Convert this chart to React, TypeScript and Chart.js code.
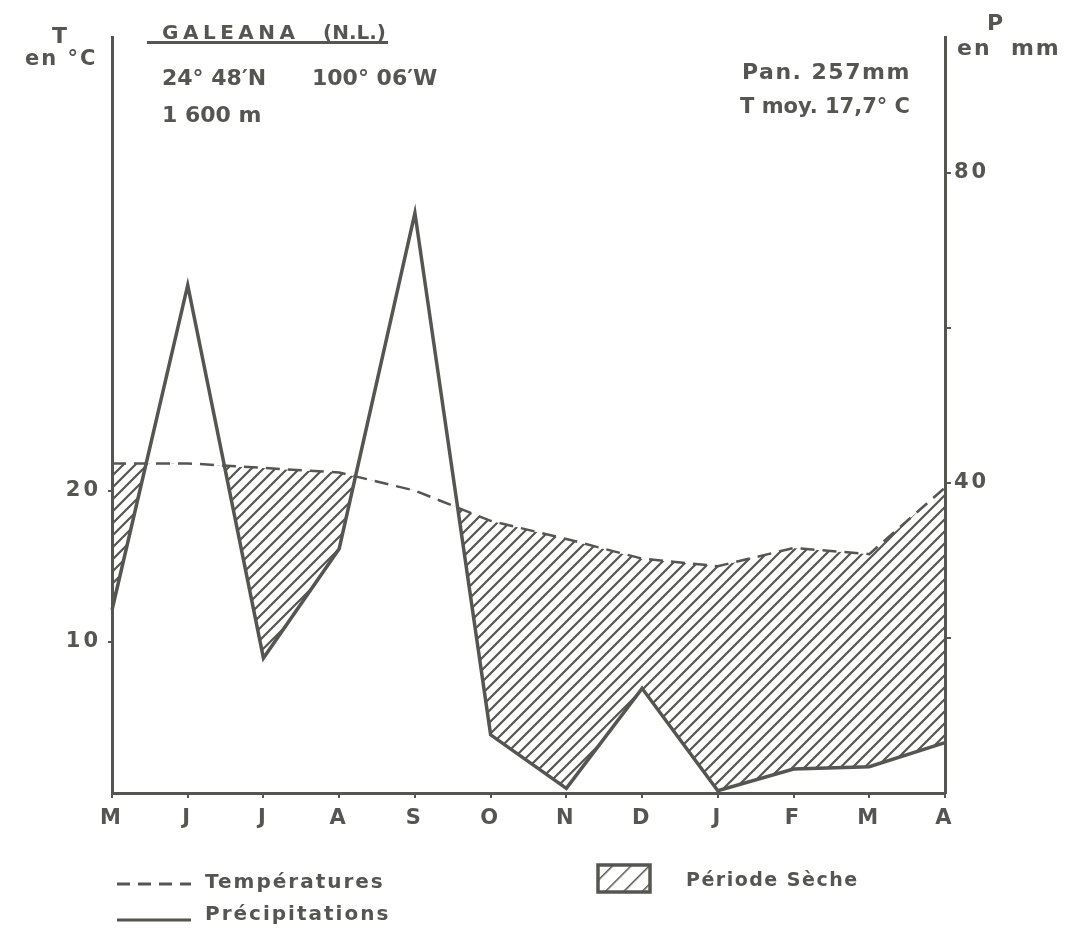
import React, { useEffect, useRef } from 'react';
import { Chart, registerables } from 'chart.js';

Chart.register(...registerables);

// ---- data ----
const months = ['M', 'J', 'J', 'A', 'S', 'O', 'N', 'D', 'J', 'F', 'M', 'A'];
const temperatures = [21.8, 21.8, 21.5, 21.2, 20.0, 18.0, 16.8, 15.5, 15.0, 16.2, 15.8, 20.2];
const precipitations = [23.6, 65.5, 17.4, 31.5, 74.8, 7.5, 0.6, 13.5, 0.3, 3.1, 3.4, 6.5];
const tempLabelledTicks = [10, 20];
const precipTickMarks = [20, 40, 60, 80];
const precipLabelledTicks = [40, 80];

const INK = '#555551';
const FONT = '"DejaVu Sans", "Noto Sans", sans-serif';

function makeHatch(ctx: CanvasRenderingContext2D) {
  const s = 12;
  const c = document.createElement('canvas');
  c.width = s;
  c.height = s;
  const g = c.getContext('2d')!;
  g.strokeStyle = INK;
  g.lineWidth = 2.2;
  g.beginPath();
  g.moveTo(-2, s + 2);
  g.lineTo(s + 2, -2);
  g.moveTo(-2, 2);
  g.lineTo(2, -2);
  g.moveTo(s - 2, s + 2);
  g.lineTo(s + 2, s - 2);
  g.stroke();
  return ctx.createPattern(c, 'repeat')!;
}

const spacingPlugin = {
  id: 'letterSpacing',
  beforeDraw(chart: any) {
    chart.ctx.letterSpacing = '3px';
  },
  afterDraw(chart: any) {
    chart.ctx.letterSpacing = '0px';
  },
};

const txt = (extra: React.CSSProperties): React.CSSProperties => ({
  position: 'absolute',
  fontFamily: FONT,
  fontWeight: 'bold',
  color: INK,
  lineHeight: 1,
  whiteSpace: 'pre',
  margin: 0,
  ...extra,
});

export default function App() {
  const ref = useRef<HTMLCanvasElement>(null);

  useEffect(() => {
    const canvas = ref.current!;
    const ctx = canvas.getContext('2d')!;
    const hatch = makeHatch(ctx);
    const tickFont = { family: FONT, size: 21, weight: 'bold' as const };

    const chart = new Chart(ctx, {
      type: 'line',
      data: {
        labels: months,
        datasets: [
          {
            label: 'Températures',
            data: temperatures,
            yAxisID: 'y',
            borderColor: INK,
            borderWidth: 2.5,
            borderDash: [14, 8],
            pointRadius: 0,
            tension: 0,
            fill: false,
          },
          {
            label: 'Précipitations',
            data: precipitations,
            yAxisID: 'y2',
            borderColor: INK,
            borderWidth: 3.5,
            pointRadius: 0,
            tension: 0,
            fill: { target: 0, above: 'rgba(0,0,0,0)', below: hatch as any },
          },
        ],
      },
      options: {
        responsive: false,
        animation: false,
        layout: { padding: { top: 37, left: 0, right: 0, bottom: 0 } },
        plugins: {
          legend: { display: false },
          tooltip: { enabled: false },
          title: { display: false },
        },
        scales: {
          x: {
            type: 'category',
            offset: false,
            grid: { drawOnChartArea: false, drawTicks: true, tickLength: 5, color: INK, lineWidth: 2 },
            border: { display: true, color: INK, width: 3 },
            ticks: { color: INK, font: tickFont, padding: 8, autoSkip: false, maxRotation: 0 },
            afterFit: (s: any) => {
              s.height = 138;
            },
          },
          y: {
            type: 'linear',
            position: 'left',
            min: 0,
            max: 50,
            grid: {
              drawOnChartArea: false,
              tickLength: 4,
              lineWidth: 2,
              color: (c: any) => (tempLabelledTicks.includes(c.tick?.value) ? INK : 'rgba(0,0,0,0)'),
            },
            border: { display: true, color: INK, width: 3 },
            ticks: {
              stepSize: 10,
              color: INK,
              font: tickFont,
              padding: 7,
              callback: (v: any) => (tempLabelledTicks.includes(Number(v)) ? String(v) : ''),
            },
            afterFit: (s: any) => {
              s.width = 112;
            },
          },
          y2: {
            type: 'linear',
            position: 'right',
            min: 0,
            max: 97.5,
            grid: {
              drawOnChartArea: false,
              tickLength: 6,
              lineWidth: 2,
              color: (c: any) => (precipTickMarks.includes(c.tick?.value) ? INK : 'rgba(0,0,0,0)'),
            },
            border: { display: true, color: INK, width: 3 },
            ticks: {
              stepSize: 20,
              color: INK,
              font: tickFont,
              padding: 3,
              callback: (v: any) => (precipLabelledTicks.includes(Number(v)) ? String(v) : ''),
            },
            afterFit: (s: any) => {
              s.width = 121;
            },
          },
        },
      },
      plugins: [spacingPlugin],
    } as any);

    return () => chart.destroy();
  }, []);

  return (
    <div
      style={{
        position: 'absolute',
        left: 0,
        top: 0,
        width: 1066,
        height: 931,
        background: '#ffffff',
        overflow: 'hidden',
      }}
    >
      <canvas
        ref={ref}
        width={1066}
        height={931}
        style={{ position: 'absolute', left: 0, top: 0, width: 1066, height: 931 }}
      />

      {/* left axis title */}
      <div style={txt({ left: 52, top: 25, fontSize: 22 })}>T</div>
      <div style={txt({ left: 25, top: 48, fontSize: 21, letterSpacing: 2 })}>en °C</div>

      {/* right axis title */}
      <div style={txt({ left: 987, top: 12, fontSize: 22 })}>P</div>
      <div style={txt({ left: 957, top: 37, fontSize: 22, letterSpacing: 2 })}>en  mm</div>

      {/* station block */}
      <div style={txt({ left: 162, top: 22, fontSize: 20, letterSpacing: 4.5 })}>GALEANA</div>
      <div style={txt({ left: 323, top: 22, fontSize: 20 })}>(N.L.)</div>
      <div style={{ position: 'absolute', left: 147, top: 41, width: 241, height: 0, borderTop: `3px solid ${INK}` }} />
      <div style={txt({ left: 162, top: 67, fontSize: 22 })}>24° 48′N</div>
      <div style={txt({ left: 312, top: 67, fontSize: 22 })}>100° 06′W</div>
      <div style={txt({ left: 162, top: 104, fontSize: 22 })}>1 600 m</div>

      {/* totals */}
      <div style={txt({ left: 742, top: 61, fontSize: 22, letterSpacing: 1.5 })}>Pan. 257mm</div>
      <div style={txt({ left: 740, top: 96, fontSize: 21 })}>T moy. 17,7° C</div>

      {/* legend */}
      <svg style={{ position: 'absolute', left: 117, top: 880 }} width={76} height={8}>
        <line x1={0} y1={4} x2={74} y2={4} stroke={INK} strokeWidth={3} strokeDasharray="13 8" />
      </svg>
      <div style={txt({ left: 205, top: 871, fontSize: 20, letterSpacing: 2 })}>Températures</div>
      <svg style={{ position: 'absolute', left: 117, top: 916 }} width={76} height={8}>
        <line x1={0} y1={4} x2={74} y2={4} stroke={INK} strokeWidth={3} />
      </svg>
      <div style={txt({ left: 205, top: 903, fontSize: 20, letterSpacing: 2 })}>Précipitations</div>

      <svg style={{ position: 'absolute', left: 596, top: 863 }} width={56} height={31}>
        <defs>
          <pattern id="hatchbox" width="13" height="13" patternUnits="userSpaceOnUse" patternTransform="rotate(45)">
            <line x1={0} y1={0} x2={0} y2={13} stroke={INK} strokeWidth={3} />
          </pattern>
        </defs>
        <rect x={2} y={2} width={52} height={27} fill="url(#hatchbox)" stroke={INK} strokeWidth={3.5} />
      </svg>
      <div style={txt({ left: 686, top: 870, fontSize: 19, letterSpacing: 1.5 })}>Période Sèche</div>
    </div>
  );
}
